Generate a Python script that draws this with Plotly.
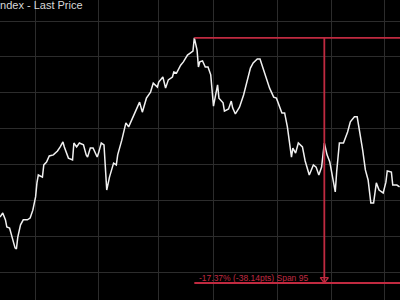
import plotly.graph_objects as go

# trading-day index and last price
days = [0, 2, 4, 5, 7, 9, 11, 12, 13, 15, 17, 20, 22, 24, 26, 27, 28, 31, 32, 34,
        36, 39, 42, 44, 46, 47, 50, 53, 54, 56, 58, 61, 63, 64, 66, 68, 71, 72, 74, 76,
        78, 80, 83, 85, 86, 89, 92, 94, 97, 100, 102, 104, 107, 110, 112, 115, 116, 119, 121, 123,
        126, 127, 129, 132, 134, 137, 140, 141, 142, 144, 145,
        146, 148, 150, 152, 154, 156, 159, 160, 163, 164, 167, 169, 170, 172, 175, 178, 180, 183, 185, 188,
        190, 192, 194, 197, 200, 202, 206, 208, 210, 213, 214, 216, 218, 221, 223, 226, 229, 231, 233, 235,
        237, 239, 241, 243, 245, 246, 248, 251, 254, 256, 259, 261, 263, 265, 267, 269, 271, 273, 275, 277,
        280, 282, 283, 286, 287, 290, 292]
prices = [165.4, 166.5, 164.6, 162.6, 162.3, 159.8, 156.8, 156.5, 159.8, 163.2, 164.6, 164.6, 165.1, 167.3, 171.0, 174.9, 177.1, 176.5, 179.9, 180.7,
          182.4, 182.7, 183.8, 184.9, 186.3, 184.9, 181.8, 181.3, 186.0, 184.9, 186.0, 185.5, 182.7, 182.1, 184.6, 184.6, 182.1, 183.2, 186.0, 185.5,
          172.9, 176.5, 180.4, 179.9, 182.7, 186.8, 191.6, 190.5, 193.0, 196.0, 197.4, 194.6, 198.5, 200.2, 202.7, 201.6, 203.0, 204.4, 201.3, 203.6,
          204.4, 205.8, 205.5, 207.7, 208.6, 210.5, 211.4, 211.6, 215.3, 211.9, 207.2,
          208.6, 208.9, 207.2, 207.2, 205.0, 196.3, 202.2, 198.5, 197.2, 194.9, 195.5, 197.7, 195.8, 194.1, 196.0, 199.4, 202.2, 206.9, 208.3, 209.4,
          209.4, 207.2, 204.4, 201.3, 198.8, 198.5, 194.4, 194.4, 190.5, 182.1, 184.6, 183.2, 186.0, 184.9, 181.0, 177.1, 179.9, 179.3, 177.1, 179.3,
          186.0, 182.7, 180.7, 176.5, 172.4, 177.9, 186.0, 186.0, 189.1, 191.9, 193.3, 193.3, 188.8, 184.1, 178.5, 175.7, 169.3, 169.3, 174.9, 172.9,
          172.1, 175.1, 178.2, 177.9, 174.3, 174.3, 173.8]

grid_days = [26, 72, 116, 156, 203, 242, 281]
grid_prices = [150, 160, 170, 180, 190, 200, 210, 220]

title_text = "Index - Last Price"
ruler_text = "-17.37% (-38.14pts) Span 95"
peak_day = 142
span_days = 95
peak_price = 215.3
ruler_low = 147.0
x_range = [0, 292.3]
y_range = [142.27, 225.85]

red = "#c02a40"

fig = go.Figure()
fig.add_trace(go.Scatter(x=days, y=prices, mode="lines",
                         line=dict(color="#f0f0f0", width=1.5),
                         hoverinfo="skip", showlegend=False))

end_day = peak_day + span_days
# ruler lines
fig.add_trace(go.Scatter(x=[peak_day, x_range[1] + 5], y=[peak_price, peak_price], mode="lines",
                         line=dict(color=red, width=1.8), showlegend=False, hoverinfo="skip"))
fig.add_trace(go.Scatter(x=[end_day, end_day], y=[peak_price, ruler_low], mode="lines",
                         line=dict(color=red, width=1.8), showlegend=False, hoverinfo="skip"))
fig.add_trace(go.Scatter(x=[peak_day, x_range[1] + 5], y=[ruler_low, ruler_low], mode="lines",
                         line=dict(color=red, width=1.8), showlegend=False, hoverinfo="skip"))
fig.add_trace(go.Scatter(x=[end_day], y=[ruler_low + 1.0], mode="markers",
                         marker=dict(symbol="triangle-down-open", size=7, color=red,
                                     line=dict(color=red, width=1.3)),
                         showlegend=False, hoverinfo="skip"))

fig.add_annotation(x=peak_day + 2, y=ruler_low, xref="x", yref="y", text=ruler_text,
                   showarrow=False, xanchor="left", yanchor="bottom", yshift=-2,
                   font=dict(family="Liberation Sans, Arial", size=8.5, color=red))
fig.add_annotation(x=-0.012, y=1.0, xref="paper", yref="paper", text=title_text,
                   showarrow=False, xanchor="left", yanchor="top", yshift=3,
                   font=dict(family="Liberation Sans, Arial", size=11, color="#d8d8d8"))

fig.update_layout(
    width=400, height=300,
    margin=dict(l=0, r=0, t=0, b=0),
    paper_bgcolor="black", plot_bgcolor="black",
    xaxis=dict(range=x_range, tickvals=grid_days, showticklabels=False, ticks="",
               showgrid=True, gridcolor="#2c2c2c", gridwidth=1, zeroline=False, showline=False),
    yaxis=dict(range=y_range, tickvals=grid_prices, showticklabels=False, ticks="",
               showgrid=True, gridcolor="#2c2c2c", gridwidth=1, zeroline=False, showline=False),
)

fig.write_html("out.html")
